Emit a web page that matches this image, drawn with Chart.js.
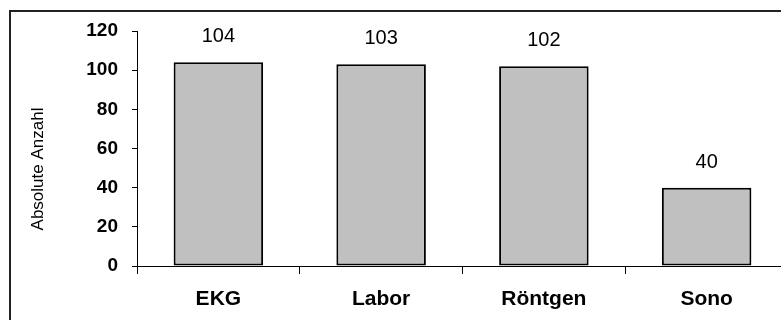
<!DOCTYPE html>
<html lang="de">
  <head>
    <meta charset="UTF-8" />
    <title>Absolute Anzahl</title>
    <script src="https://cdn.jsdelivr.net/npm/chart.js"></script>
    <style>
      html, body { margin: 0; padding: 0; background: #fff; overflow: hidden; width: 781px; height: 320px; }
      #chart { position: absolute; left: 0; top: 0; }
    </style>
  </head>
  <body>
    <canvas id="chart" width="800" height="330"></canvas>

    <script>
      // data
      const categories = ['EKG', 'Labor', 'Röntgen', 'Sono'];
      const counts = [104, 103, 102, 40];
      const yTicks = [0, 20, 40, 60, 80, 100, 120];
      const yTitle = 'Absolute Anzahl';

      const font = "'Liberation Sans', Arial, sans-serif";

      // frame, axis title and value labels
      const extras = {
        id: 'extras',
        beforeDraw(chart) {
          const ctx = chart.ctx;
          ctx.save();
          ctx.fillStyle = '#fff';
          ctx.fillRect(0, 0, chart.width, chart.height);
          ctx.strokeStyle = '#222';
          ctx.lineWidth = 2;
          ctx.strokeRect(10, 11, 900, 400);
          ctx.restore();
        },
        afterDraw(chart) {
          const ctx = chart.ctx;
          ctx.save();
          ctx.fillStyle = '#000';
          ctx.font = '20px ' + font;
          ctx.textAlign = 'center';
          ctx.textBaseline = 'alphabetic';
          chart.getDatasetMeta(0).data.forEach((bar, i) => {
            ctx.fillText(String(counts[i]), bar.x, bar.y - 20);
          });
          // y title
          ctx.translate(38, 169);
          ctx.rotate(-Math.PI / 2);
          ctx.font = '17px ' + font;
          ctx.textBaseline = 'middle';
          ctx.fillText(yTitle, 0, 0);
          ctx.restore();
        },
      };

      new Chart(document.getElementById('chart'), {
        type: 'bar',
        data: {
          labels: categories,
          datasets: [
            {
              data: counts,
              backgroundColor: '#c0c0c0',
              borderColor: '#000',
              borderWidth: 2,
              borderSkipped: false,
              barPercentage: 0.55,
              categoryPercentage: 1,
            },
          ],
        },
        options: {
          responsive: false,
          animation: false,
          layout: { padding: { left: 0, top: 31, right: 12, bottom: 0 } },
          plugins: { legend: { display: false }, tooltip: { enabled: false } },
          scales: {
            x: {
              offset: true,
              grid: { offset: true, drawOnChartArea: false, drawTicks: true, tickLength: 8, color: '#000', lineWidth: 1 },
              border: { display: true, color: '#000', width: 1 },
              ticks: { color: '#000', padding: 13, font: { family: font, size: 21, weight: 'bold' } },
              afterFit(scale) { scale.height = 64; },
            },
            y: {
              min: 0,
              max: 120,
              grid: { drawOnChartArea: false, drawTicks: true, tickLength: 5, color: '#000', lineWidth: 1 },
              border: { display: true, color: '#000', width: 1 },
              afterBuildTicks(scale) { scale.ticks = yTicks.map((v) => ({ value: v })); },
              ticks: { color: '#000', padding: 14, font: { family: font, size: 19, weight: 'bold' } },
              afterFit(scale) { scale.width = 137; },
            },
          },
        },
        plugins: [extras],
      });
    </script>
  </body>
</html>
